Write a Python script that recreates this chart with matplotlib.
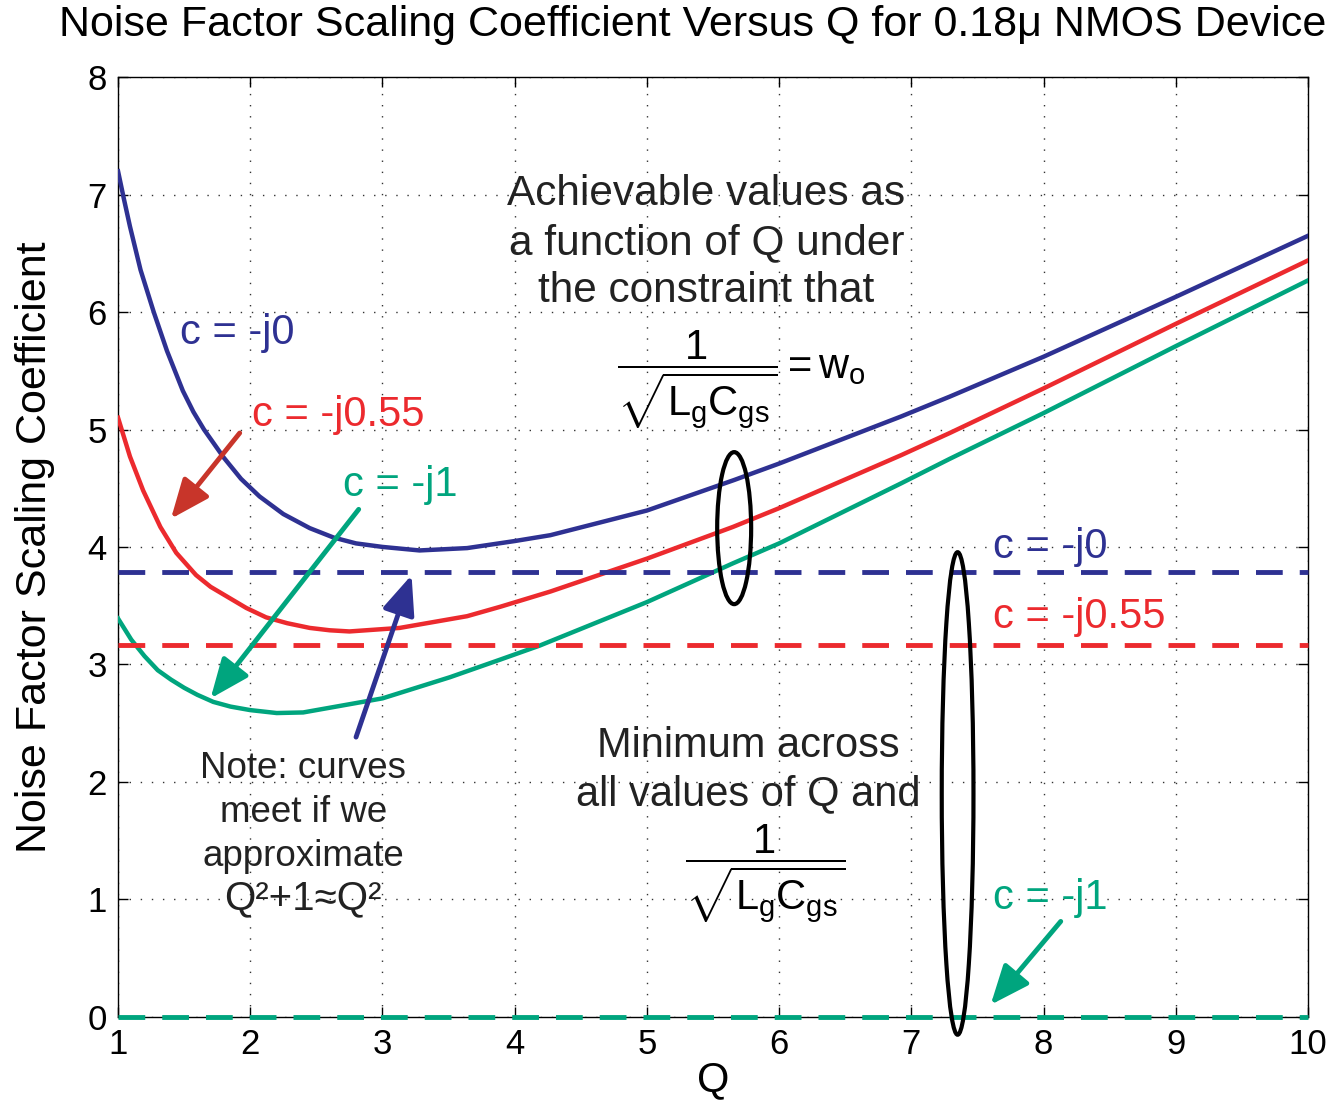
import matplotlib
matplotlib.use("Agg")
import matplotlib.pyplot as plt
from matplotlib.patches import Ellipse

plt.rcParams["font.family"] = ["Liberation Sans", "DejaVu Sans"]
plt.rcParams["mathtext.fontset"] = "custom"
plt.rcParams["mathtext.rm"] = "Liberation Sans"
plt.rcParams["mathtext.it"] = "Liberation Sans"
plt.rcParams["mathtext.bf"] = "Liberation Sans:bold"

# values
q_c0 = [1.0, 1.045, 1.09, 1.17, 1.27, 1.37, 1.49, 1.57, 1.65, 1.80, 1.93, 2.07,
        2.25, 2.45, 2.63, 2.8, 3.0, 3.28, 3.64, 4.0, 4.27, 5.0, 5.66, 6.0,
        6.92, 7.29, 8.0, 9.0, 10.0]
nf_c0 = [7.20, 6.96, 6.73, 6.36, 6.00, 5.67, 5.33, 5.15, 5.00, 4.76, 4.58, 4.43,
         4.28, 4.16, 4.08, 4.03, 4.00, 3.97, 3.99, 4.05, 4.10, 4.31, 4.57, 4.71,
         5.11, 5.28, 5.62, 6.13, 6.65]

q_c055 = [1.0, 1.09, 1.19, 1.32, 1.44, 1.59, 1.70, 1.82, 1.97, 2.12, 2.28, 2.45,
          2.6, 2.75, 3.13, 3.64, 3.89, 4.27, 5.0, 5.65, 6.0, 6.92, 7.29, 8.0,
          9.0, 10.0]
nf_c055 = [5.10, 4.77, 4.48, 4.17, 3.95, 3.76, 3.66, 3.58, 3.48, 3.40, 3.35, 3.31,
           3.29, 3.28, 3.31, 3.41, 3.49, 3.62, 3.90, 4.17, 4.33, 4.78, 4.97, 5.35,
           5.90, 6.44]

q_c1 = [1.0, 1.1, 1.2, 1.3, 1.4, 1.5, 1.6, 1.72, 1.85, 2.0, 2.2, 2.4, 2.6, 2.8,
        3.0, 3.51, 3.89, 4.19, 5.0, 5.65, 6.0, 6.92, 7.29, 8.0, 9.0, 10.0]
nf_c1 = [3.39, 3.21, 3.07, 2.95, 2.87, 2.80, 2.74, 2.68, 2.64, 2.61, 2.585, 2.59,
         2.63, 2.67, 2.71, 2.89, 3.04, 3.16, 3.53, 3.86, 4.03, 4.54, 4.75, 5.14,
         5.71, 6.27]

# minimum over all Q (dashed)
min_levels = [3.79, 3.165, 0.0]

labels = ["c = -j0", "c = -j0.55", "c = -j1"]
colors = ["#2E3192", "#EC2A2E", "#00A57E"]
xticks = [1, 2, 3, 4, 5, 6, 7, 8, 9, 10]
yticks = [0, 1, 2, 3, 4, 5, 6, 7, 8]

fig = plt.figure(figsize=(13.4, 11), dpi=100)
ax = fig.add_axes([0.0881, 0.0759, 0.888, 0.8538])

for q, nf, col in zip([q_c0, q_c055, q_c1], [nf_c0, nf_c055, nf_c1], colors):
    ax.plot(q, nf, color=col, lw=3.2, zorder=3, solid_joinstyle="round")

for lev, col in zip(min_levels, colors):
    ax.plot([xticks[0], xticks[-1]], [lev, lev], color=col, lw=3.5,
            dashes=(5.5, 3.5), zorder=3, clip_on=False)

ax.set_xlim(1, 10)
ax.set_ylim(0, 8)
ax.set_xticks(xticks)
ax.set_yticks(yticks)
ax.tick_params(direction="in", length=7, width=1, labelsize=25, top=True,
               right=True, pad=8)
ax.grid(True, color="#333333", lw=1.0, linestyle=(0, (1, 7)))
for s in ax.spines.values():
    s.set_linewidth(1.0)

ax.set_xlabel("Q", fontsize=30)
ax.xaxis.set_label_coords(0.5, -0.047)
ax.set_ylabel("Noise Factor Scaling Coefficient", fontsize=31)
ax.yaxis.set_label_coords(-0.053, 0.5)

fig.text(0.517, 1 - 25 / 1100, "Noise Factor Scaling Coefficient Versus Q for 0.18\u03bc NMOS Device",
         ha="center", va="center", fontsize=31)

# curve labels
ax.text(1.47, 5.82, labels[0], color=colors[0], fontsize=30, va="center")
ax.text(2.01, 5.12, labels[1], color=colors[1], fontsize=30, va="center")
ax.text(2.70, 4.53, labels[2], color=colors[2], fontsize=30, va="center")
ax.text(7.62, 4.00, labels[0], color=colors[0], fontsize=30, va="center")
ax.text(7.62, 3.40, labels[1], color=colors[1], fontsize=30, va="center")
ax.text(7.62, 1.01, labels[2], color=colors[2], fontsize=30, va="center")


def arrow(tail, tip, col):
    ax.annotate("", xy=tip, xytext=tail,
                arrowprops=dict(arrowstyle="-|>,head_length=1.2,head_width=0.5",
                                color=col, lw=3.5, mutation_scale=20,
                                shrinkA=0, shrinkB=0), zorder=4)


arrow((1.92, 4.97), (1.40, 4.24), "#C8352A")
arrow((2.82, 4.32), (1.70, 2.71), colors[2])
arrow((2.80, 2.38), (3.22, 3.76), colors[0])
arrow((8.13, 0.81), (7.60, 0.10), colors[2])

# annotations
ax.text(5.45, 6.59, "Achievable values as\na function of Q under\nthe constraint that",
        ha="center", va="center", fontsize=30.5, color="#222222", linespacing=1.27)
ax.text(5.71, 5.42, r"$\dfrac{1}{\sqrt{L_gC_{gs}}} = w_o$",
        ha="center", va="center", fontsize=30, color="black")
ax.text(2.40, 1.74, "Note: curves\nmeet if we\napproximate",
        ha="center", va="center", fontsize=26.5, color="#222222", linespacing=1.33)
ax.text(2.40, 1.01, "Q\u00b2+1\u2248Q\u00b2",
        ha="center", va="center", fontsize=29, color="#222222")
ax.text(5.77, 2.10, "Minimum across\nall values of Q and",
        ha="center", va="center", fontsize=30, color="#222222", linespacing=1.28)
ax.text(5.89, 1.22, r"$\dfrac{1}{\sqrt{L_gC_{gs}}}$",
        ha="center", va="center", fontsize=30, color="black")

ax.add_patch(Ellipse((5.66, 4.16), 0.257, 1.295, fill=False, ec="black",
                     lw=3, zorder=5))
ax.add_patch(Ellipse((7.35, 1.90), 0.24, 4.11, fill=False, ec="black",
                     lw=3, zorder=5, clip_on=False))

fig.savefig("out.png", dpi=100)
